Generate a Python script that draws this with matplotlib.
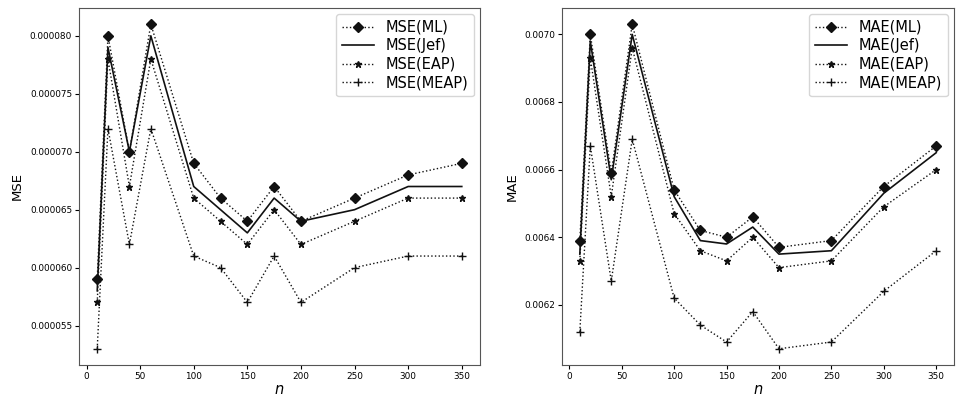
import matplotlib
matplotlib.use("Agg")
import matplotlib.pyplot as plt

# Tamaños de muestra
n = [10, 20, 40, 60, 100, 125, 150, 175, 200, 250, 300, 350]

# MSE por metodo
mse_ml = [5.9e-5, 8.0e-5, 7.0e-5, 8.1e-5, 6.9e-5, 6.6e-5, 6.4e-5, 6.7e-5, 6.4e-5, 6.6e-5, 6.8e-5, 6.9e-5]
mse_jef = [5.8e-5, 7.9e-5, 7.0e-5, 8.0e-5, 6.7e-5, 6.5e-5, 6.3e-5, 6.6e-5, 6.4e-5, 6.5e-5, 6.7e-5, 6.7e-5]
mse_eap = [5.7e-5, 7.8e-5, 6.7e-5, 7.8e-5, 6.6e-5, 6.4e-5, 6.2e-5, 6.5e-5, 6.2e-5, 6.4e-5, 6.6e-5, 6.6e-5]
mse_meap = [5.3e-5, 7.2e-5, 6.2e-5, 7.2e-5, 6.1e-5, 6.0e-5, 5.7e-5, 6.1e-5, 5.7e-5, 6.0e-5, 6.1e-5, 6.1e-5]

# MAE por metodo
mae_ml = [0.00639, 0.00700, 0.00659, 0.00703, 0.00654, 0.00642, 0.00640, 0.00646, 0.00637, 0.00639, 0.00655, 0.00667]
mae_jef = [0.00635, 0.00698, 0.00657, 0.00700, 0.00652, 0.00639, 0.00638, 0.00643, 0.00635, 0.00636, 0.00653, 0.00665]
mae_eap = [0.00633, 0.00693, 0.00652, 0.00696, 0.00647, 0.00636, 0.00633, 0.00640, 0.00631, 0.00633, 0.00649, 0.00660]
mae_meap = [0.00612, 0.00667, 0.00627, 0.00669, 0.00622, 0.00614, 0.00609, 0.00618, 0.00607, 0.00609, 0.00624, 0.00636]

fig = plt.figure(figsize=(9.56, 3.99), dpi=100)
ax1 = fig.add_axes([79 / 956, 34 / 399, 401 / 956, 357 / 399])
ax2 = fig.add_axes([562 / 956, 34 / 399, 392 / 956, 357 / 399])


def dibujar(ax, nombre, ml, jef, eap, meap):
    ax.plot(n, ml, ':', color='#111111', marker='D', markersize=5, lw=1.0, label=f'{nombre}(ML)')
    ax.plot(n, jef, '-', color='#111111', lw=1.2, label=f'{nombre}(Jef)')
    ax.plot(n, eap, ':', color='#111111', marker='*', markersize=5, lw=1.0, label=f'{nombre}(EAP)')
    ax.plot(n, meap, ':', color='#111111', marker='+', markersize=6, lw=1.0, label=f'{nombre}(MEAP)')
    ax.set_xlabel('$n$', fontsize=10.5, labelpad=1)
    ax.set_ylabel(nombre, fontsize=9.5, labelpad=4)
    ax.tick_params(labelsize=6.4, length=3, pad=2)
    for s in ax.spines.values():
        s.set_color('#555555')
    ax.legend(loc='upper right', fontsize=10.5, handlelength=2.2, labelspacing=0.25,
              borderaxespad=0.4, fancybox=True)


dibujar(ax1, 'MSE', mse_ml, mse_jef, mse_eap, mse_meap)
dibujar(ax2, 'MAE', mae_ml, mae_jef, mae_eap, mae_meap)

ax1.yaxis.set_major_formatter(matplotlib.ticker.FormatStrFormatter('%.6f'))
ax2.yaxis.set_major_formatter(matplotlib.ticker.FormatStrFormatter('%.4f'))

fig.savefig('out.png', dpi=100)
